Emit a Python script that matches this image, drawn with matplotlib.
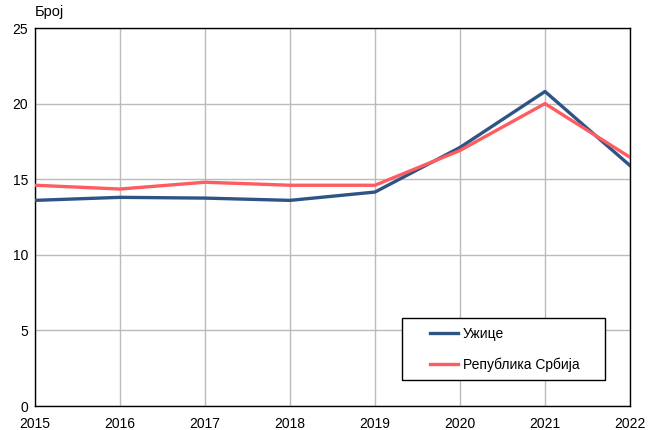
import matplotlib
matplotlib.use('Agg')
import matplotlib.pyplot as plt
from matplotlib.patches import Rectangle

plt.rcParams['font.family'] = ['Liberation Sans', 'DejaVu Sans']

years = [2015, 2016, 2017, 2018, 2019, 2020, 2021, 2022]
uzice = [13.6, 13.8, 13.75, 13.6, 14.15, 17.1, 20.8, 15.9]
srbija = [14.6, 14.35, 14.8, 14.6, 14.6, 16.9, 20.0, 16.45]
yticks = [0, 5, 10, 15, 20, 25]

fig = plt.figure(figsize=(6.48, 4.30), dpi=100)
ax = fig.add_axes([35 / 648, 24 / 430, 595 / 648, 378 / 430])

ax.plot(years, uzice, color='#2e5485', lw=2.4, label='Ужице', zorder=3)
ax.plot(years, srbija, color='#ff5c61', lw=2.4, label='Република Србија', zorder=3)

ax.set_xlim(2015, 2022)
ax.set_ylim(0, 25)
ax.set_xticks(years)
ax.set_yticks(yticks)
ax.grid(True, color='#bbbbbb', lw=1)
ax.set_axisbelow(True)
ax.tick_params(length=0, labelsize=10)
ax.tick_params(axis='x', pad=8)
ax.tick_params(axis='y', pad=5)
for s in ax.spines.values():
    s.set_color('black')
    s.set_linewidth(1)

# y unit label
fig.text(35 / 648, 1 - 12 / 430, 'Број', fontsize=10.5, va='center', ha='left')

# legend box drawn by hand, legend itself without frame
box = Rectangle((0.617, 0.069), 0.341, 0.164, transform=ax.transAxes,
                facecolor='white', edgecolor='black', lw=1, zorder=5)
ax.add_patch(box)
leg = ax.legend(loc='center left', bbox_to_anchor=(0.664, 0.15), frameon=False,
                fontsize=10, handlelength=2.0, handletextpad=0.35,
                labelspacing=1.15, borderpad=0, borderaxespad=0)
leg.set_zorder(6)

fig.savefig('out.png', dpi=100)
